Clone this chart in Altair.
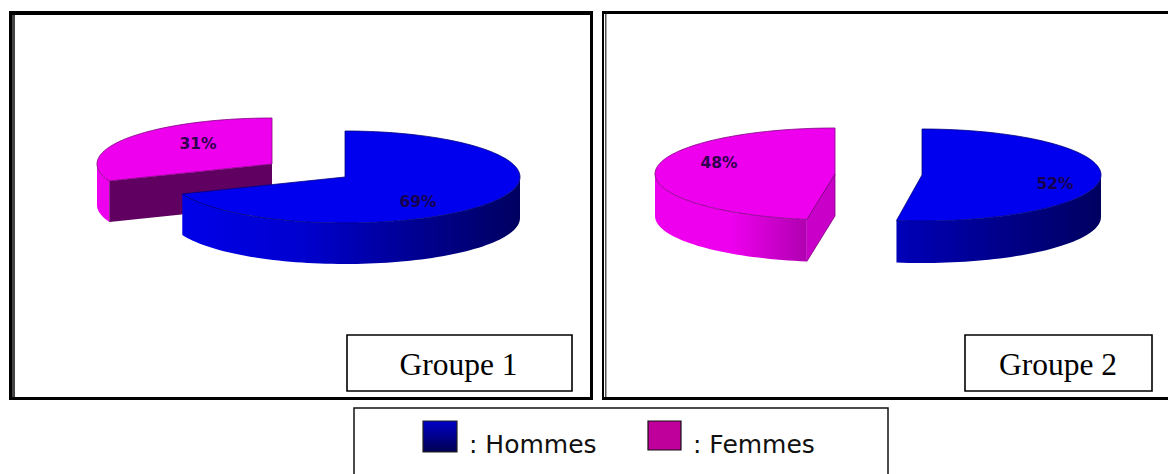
import math
import altair as alt
import pandas as pd

# ---- values ----
GROUPS = ["Groupe 1", "Groupe 2"]
HOMMES = [69, 52]
FEMMES = [31, 48]
SERIES = [": Hommes", ": Femmes"]

# ---- drawing helpers (page pixel coordinates through linear scales) ----
W, H = 1160, 466
X = alt.X("x:Q", scale=alt.Scale(domain=[8, 8 + W]), axis=None)
Y = alt.Y("y:Q", scale=alt.Scale(domain=[8, 8 + H], reverse=True), axis=None)
BASE = dict(clip=True)


def grad(stops, vertical=False):
    return alt.LinearGradient(
        gradient="linear",
        x1=0, y1=0,
        x2=0 if vertical else 1,
        y2=1 if vertical else 0,
        stops=[alt.GradientStop(offset=o, color=c) for o, c in stops],
    )


def pt(c, a, dy=0):
    r = math.radians(a)
    return (c[0] + c[2] * math.sin(r), c[1] - c[3] * math.cos(r) + dy)


def arc(c, a0, a1, dy=0):
    n = max(2, int(abs(a1 - a0) / 2))
    return [pt(c, a0 + (a1 - a0) * i / n, dy) for i in range(n + 1)]


def poly(points, fill, stroke=None, sw=0.8):
    df = pd.DataFrame(points, columns=["x", "y"]).reset_index(names="k")
    kw = dict(fill=fill, strokeWidth=sw, stroke=stroke if stroke else "transparent")
    return alt.Chart(df).mark_line(**kw, **BASE).encode(x=X, y=Y, order="k:Q")


def top(c, a0, a1, fill, stroke):
    p = [(c[0], c[1])] + arc(c, a0, a1) + [(c[0], c[1])]
    return poly(p, fill, stroke)


def wall(c, a0, a1, depth, fill):
    return poly(arc(c, a0, a1) + arc(c, a1, a0, depth), fill)


def rects(rows, **mark):
    df = pd.DataFrame(rows, columns=["x", "x2", "y", "y2"])
    return alt.Chart(df).mark_rect(**mark, **BASE).encode(x=X, x2="x2:Q", y=Y, y2="y2:Q")


def text(rows, **mark):
    df = pd.DataFrame(rows, columns=["x", "y", "t"])
    return alt.Chart(df).mark_text(**mark, **BASE).encode(x=X, y=Y, text="t:N")


DEPTH = 41
MAG, BLU = "#ee00ee", "#0000ee"
layers = []

# frames
layers.append(rects([(9, 12, 11, 400), (590, 593, 11, 400), (9, 593, 11, 15), (9, 593, 397, 400),
                     (602, 604, 11, 400), (602, 1176, 11, 14), (602, 1176, 397, 400)], fill="#000000"))
layers.append(rects([(12, 15, 15, 397)], fill="#444444"))
layers.append(rects([(605, 606.5, 14, 397)], fill="#555555"))

# pie 1
a1 = HOMMES[0] * 3.6
cm, cb = (272, 164, 175, 46), (345, 177, 175, 46)
layers.append(wall(cm, a1, 270, DEPTH, "#ee00ee"))
xa, ya = pt(cm, a1)
layers.append(poly([(xa, ya), (cm[0], cm[1]), (cm[0], cm[1] + DEPTH), (xa, ya + DEPTH)], "#600060"))
layers.append(top(cm, a1, 360, MAG, "#800080"))
layers.append(wall(cb, 90, a1, DEPTH, grad([(0, "#0000e8"), (0.35, "#0000d0"), (0.7, "#000090"), (1, "#000060")])))
layers.append(top(cb, 0, a1, BLU, "#000080"))

# pie 2
a2 = HOMMES[1] * 3.6 + 1.8
a2b = HOMMES[1] * 3.6 + 1.0
cm2, cb2 = (835, 174, 180, 46), (922, 175, 179, 46)
layers.append(wall(cm2, a2, 270, DEPTH + 1, grad([(0, "#ee00ee"), (0.5, "#ee00ee"), (1, "#b000b0")])))
xa, ya = pt(cm2, a2)
layers.append(poly([(xa, ya), (cm2[0], cm2[1]), (cm2[0], cm2[1] + DEPTH + 1), (xa, ya + DEPTH + 1)], "#c800c8", "#800080"))
layers.append(top(cm2, a2, 360, MAG, "#800080"))
layers.append(wall(cb2, 90, a2b, DEPTH + 1, grad([(0, "#0000b8"), (0.45, "#000090"), (1, "#000060")])))
layers.append(top(cb2, 0, a2b, BLU, "#000080"))

# pie labels
pct = [f"{FEMMES[0]}%", f"{HOMMES[0]}%", f"{FEMMES[1]}%", f"{HOMMES[1]}%"]
layers.append(text([(198, 144, pct[0]), (418, 202, pct[1]), (719, 163, pct[2]), (1055, 184, pct[3])],
                    font="DejaVu Sans", fontSize=15.5, fontWeight="bold", color="#1a0040",
                    align="center", baseline="middle", opacity=0.9))

# group boxes
layers.append(rects([(347, 572, 335, 391), (965, 1152, 335, 391)], fill="#ffffff", stroke="#000000", strokeWidth=1.6))
layers.append(text([(458.5, 375, GROUPS[0]), (1058, 375, GROUPS[1])],
                   font="Liberation Serif", fontSize=31.5, color="#000000", align="center", baseline="alphabetic"))

# legend
layers.append(rects([(354, 888, 408, 480)], fill="#ffffff", stroke="#111111", strokeWidth=1.5))
layers.append(rects([(423, 457, 421, 452)], fill=grad([(0, "#0000c8"), (1, "#000050")], vertical=True),
                    stroke="#222222", strokeWidth=1.2))
layers.append(rects([(648, 681, 421, 450)], fill="#c0009a", stroke="#111111", strokeWidth=1.2))
layers.append(text([(469, 453, SERIES[0]), (693, 453, SERIES[1])],
                   font="DejaVu Sans", fontSize=25, color="#111111", align="left", baseline="alphabetic"))

chart = alt.layer(*layers).properties(
    width=W, height=H, padding=0, background="white",
    autosize=alt.AutoSizeParams(type="none"),
).configure_view(stroke=None)

chart.save("out.html", embed_options={"renderer": "svg", "actions": False})
